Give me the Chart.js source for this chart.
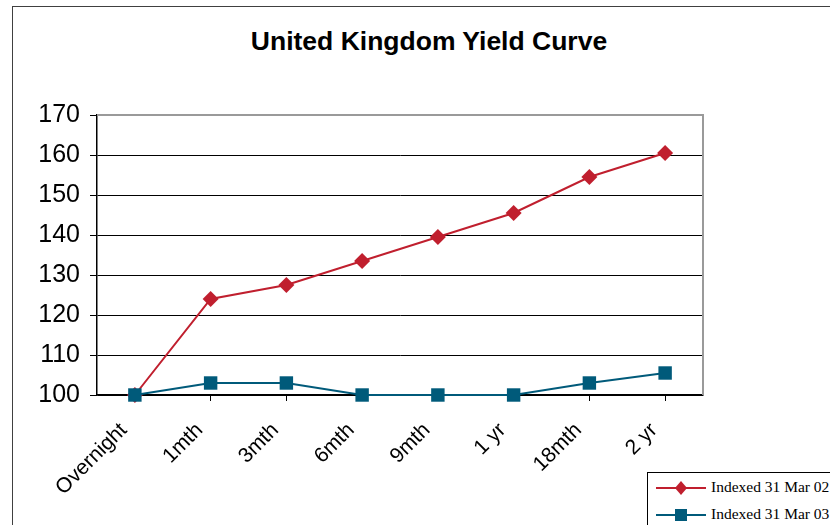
<!DOCTYPE html>
<html lang="en">
<head>
    <meta charset="UTF-8">
    <title>United Kingdom Yield Curve</title>
    <script src="https://cdn.jsdelivr.net/npm/chart.js"></script>
    <style>
        body {
            font-family: Arial, "Liberation Sans", sans-serif;
            margin: 0;
            width: 830px;
            height: 525px;
            overflow: hidden;
            position: relative;
            background: #fff;
        }
        /* marco exterior del gráfico (se sale por la derecha y abajo) */
        .marco {
            position: absolute;
            left: 12px;
            top: 6px;
            width: 900px;
            height: 600px;
            border: 1px solid #404040;
        }
        #tituloGrafico {
            position: absolute;
            left: 0;
            top: 26px;
            width: 858px;
            margin: 0;
            text-align: center;
            font-size: 26.5px;
            line-height: 30px;
            font-weight: bold;
            color: #000;
        }
        canvas {
            position: absolute;
            left: 0;
            top: 0;
        }
        .leyenda {
            position: absolute;
            left: 647px;
            top: 472px;
            width: 250px;
            height: 80px;
            border: 1px solid #000;
            background: #fff;
            font-family: "Liberation Serif", "Times New Roman", serif;
            font-size: 15.5px;
        }
        .leyenda div {
            position: absolute;
            left: 7px;
            height: 20px;
            line-height: 20px;
            white-space: nowrap;
        }
        .leyenda svg {
            vertical-align: middle;
            margin-right: 4px;
        }
    </style>
</head>
<body>
    <div class="marco"></div>
    <h2 id="tituloGrafico">United Kingdom Yield Curve</h2>
    <canvas id="graficaCurva" width="830" height="525"></canvas>

    <div class="leyenda">
        <div style="top: 4px;">
            <svg width="52" height="16"><line x1="1" y1="8" x2="51" y2="8" stroke="#C01F2E" stroke-width="2"/><polygon points="26,1 32,8 26,15 20,8" fill="#C01F2E"/></svg>Indexed 31 Mar 02
        </div>
        <div style="top: 31px;">
            <svg width="52" height="16"><line x1="1" y1="8" x2="51" y2="8" stroke="#005A7A" stroke-width="2"/><rect x="20" y="2" width="12" height="12" fill="#005A7A"/></svg>Indexed 31 Mar 03
        </div>
    </div>

    <script>
        // Datos de la curva
        const plazos = ['Overnight', '1mth', '3mth', '6mth', '9mth', '1 yr', '18mth', '2 yr'];
        const indexado02 = [100, 124, 127.5, 133.5, 139.5, 145.5, 154.5, 160.5];
        const indexado03 = [100, 103, 103, 100, 100, 100, 103, 105.5];
        const ticksY = [100, 110, 120, 130, 140, 150, 160, 170];

        // Borde del área de trazado (arriba y derecha gris)
        const bordePlot = {
            id: 'bordePlot',
            beforeDatasetsDraw(chart) {
                const a = chart.chartArea;
                const c = chart.ctx;
                c.save();
                c.strokeStyle = '#9a9a9a';
                c.lineWidth = 2;
                c.beginPath();
                c.moveTo(a.left, a.top);
                c.lineTo(a.right, a.top);
                c.lineTo(a.right, a.bottom);
                c.stroke();
                c.restore();
            }
        };

        const ctx = document.getElementById('graficaCurva').getContext('2d');
        let grafica = new Chart(ctx, {
            type: 'line',
            data: {
                labels: plazos,
                datasets: [{
                    label: 'Indexed 31 Mar 02',
                    data: indexado02,
                    borderColor: '#C01F2E',
                    backgroundColor: '#C01F2E',
                    borderWidth: 2,
                    pointStyle: 'rectRot',
                    pointRadius: 8,
                    pointBorderWidth: 0,
                    tension: 0,
                    order: 2
                }, {
                    label: 'Indexed 31 Mar 03',
                    data: indexado03,
                    borderColor: '#005A7A',
                    backgroundColor: '#005A7A',
                    borderWidth: 2,
                    pointStyle: 'rect',
                    pointRadius: 9.5,
                    pointBorderWidth: 0,
                    tension: 0,
                    order: 1
                }]
            },
            options: {
                responsive: false,
                animation: false,
                clip: false,
                layout: {
                    padding: { left: 12, right: 127, top: 115, bottom: 0 }
                },
                plugins: {
                    legend: { display: false },
                    title: { display: false },
                    tooltip: { enabled: false }
                },
                scales: {
                    x: {
                        type: 'category',
                        offset: true,
                        grid: {
                            drawOnChartArea: false,
                            offset: false,
                            color: '#000',
                            tickLength: 6
                        },
                        border: { color: '#000', width: 1.5 },
                        ticks: {
                            color: '#000',
                            font: { family: 'Arial', size: 21 },
                            minRotation: 45,
                            maxRotation: 45,
                            padding: 17,
                            labelOffset: -11
                        },
                        afterFit(scale) { scale.height = 130; }
                    },
                    y: {
                        min: 100,
                        max: 170,
                        afterBuildTicks(scale) {
                            scale.ticks = ticksY.map(v => ({ value: v }));
                        },
                        grid: {
                            color: '#000',
                            lineWidth: 1,
                            tickLength: 7
                        },
                        border: { color: '#000', width: 1.5 },
                        ticks: {
                            color: '#000',
                            font: { family: 'Arial', size: 25 },
                            padding: 10
                        },
                        afterFit(scale) { scale.width = 85; }
                    }
                }
            },
            plugins: [bordePlot]
        });
    </script>
</body>
</html>
